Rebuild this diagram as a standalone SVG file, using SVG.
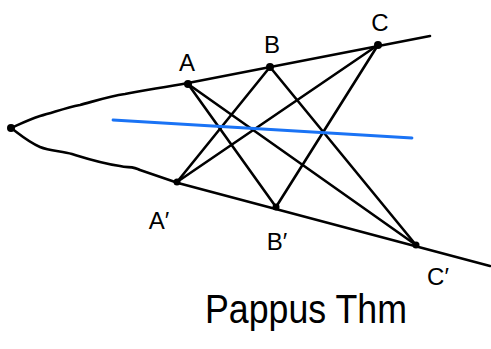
<svg xmlns="http://www.w3.org/2000/svg" width="491" height="349" viewBox="0 0 491 349">
<style>
.ln{stroke:#000;stroke-width:2.6;fill:none;stroke-linecap:round;stroke-linejoin:round}
.bl{stroke:#1a73f5;stroke-width:2.8;fill:none;stroke-linecap:round}
.pt{fill:#000}
.lb{font-family:"Liberation Sans",sans-serif;font-size:24px;fill:#000;text-anchor:middle}
.tt{font-family:"Liberation Sans",sans-serif;font-size:40px;fill:#000}
</style>
<rect width="491" height="349" fill="#fff"/>
<g id="connectors">
<path class="ln" d="M11,128 C20,124 28,120 40,116 C55,112 65,108 80,105 C95,101 110,96 125,94 C140,91 160,88 188,83 L430,36"/>
<path class="ln" d="M11,128 C18,133 28,142 40,147 C50,151 62,151 72,154 C85,158 100,163 120,166 C128,168 133,166 140,170 L178,183 L490,266"/>
<line class="ln" x1="188" y1="84" x2="276" y2="207"/>
<line class="ln" x1="188" y1="84" x2="416" y2="245"/>
<line class="ln" x1="177" y1="182" x2="270" y2="67"/>
<line class="ln" x1="177" y1="182" x2="378" y2="45"/>
<line class="ln" x1="270" y1="67" x2="416" y2="245"/>
<line class="ln" x1="276" y1="207" x2="378" y2="45"/>
<line class="bl" x1="113" y1="120" x2="412" y2="138"/>
</g>
<g id="O"><circle class="pt" cx="11" cy="128" r="4"/></g>
<g id="A"><circle class="pt" cx="188" cy="84" r="4"/><text class="lb" x="187" y="71">A</text></g>
<g id="B"><circle class="pt" cx="270" cy="67" r="4"/><text class="lb" x="272" y="53">B</text></g>
<g id="C"><circle class="pt" cx="378" cy="45" r="4"/><text class="lb" x="380" y="31">C</text></g>
<g id="A2"><circle class="pt" cx="177" cy="182" r="3.5"/><text class="lb" x="159" y="229">A′</text></g>
<g id="B2"><circle class="pt" cx="276" cy="207" r="3.5"/><text class="lb" x="277" y="250">B′</text></g>
<g id="C2"><circle class="pt" cx="416" cy="245" r="3.5"/><text class="lb" x="438" y="285">C′</text></g>
<text class="tt" x="205" y="323" textLength="202" lengthAdjust="spacingAndGlyphs">Pappus Thm</text>
</svg>
